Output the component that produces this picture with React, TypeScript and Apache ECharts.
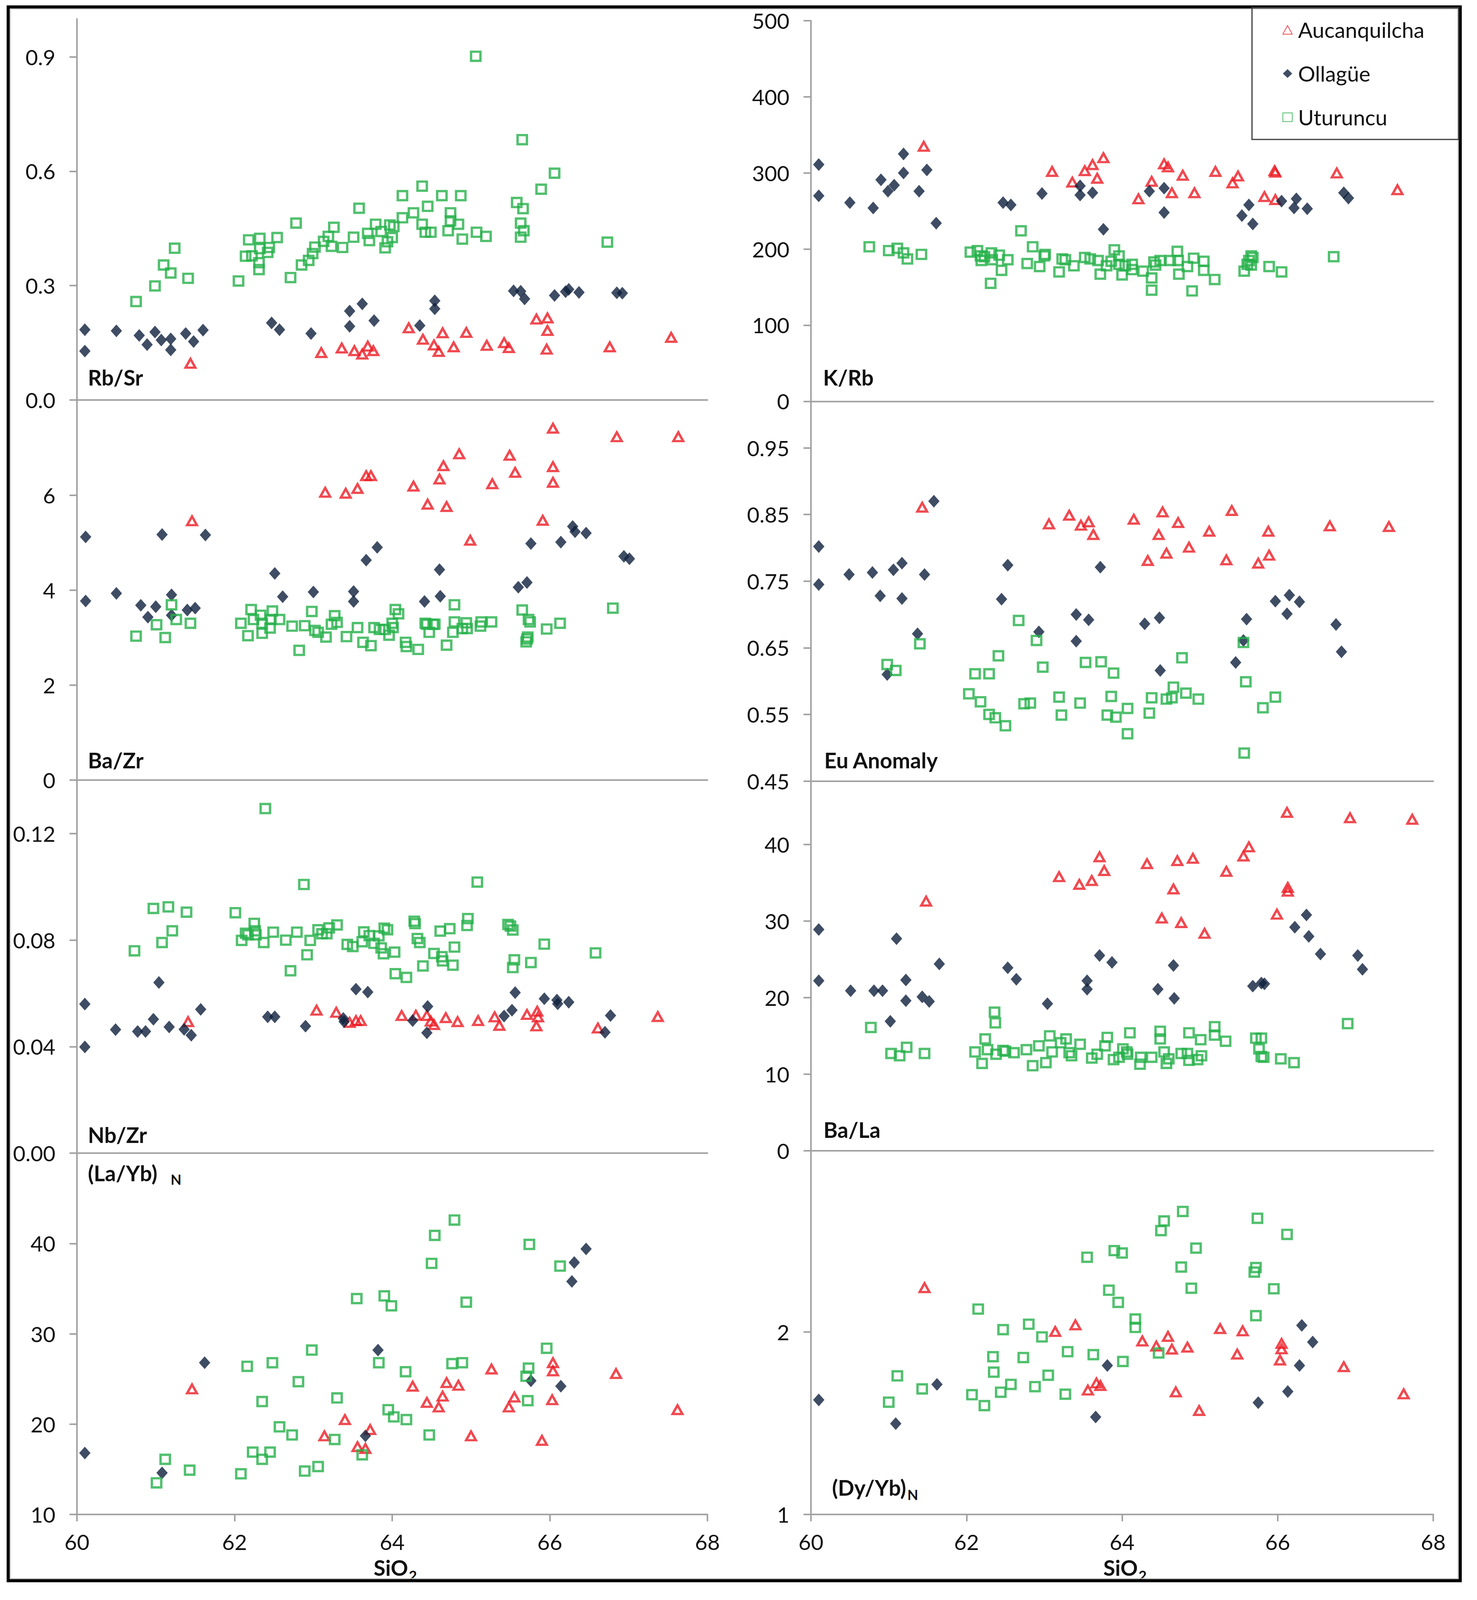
import { useEffect, useRef } from 'react';
import * as echarts from 'echarts';

type Pt = [number, number];

// shared SiO2 axis
const sio2Ticks = [60, 62, 64, 66, 68];
const seriesNames = ['Aucanquilcha', 'Ollagüe', 'Uturuncu'];

// ---- Rb/Sr
const rbSrTicks = [0, 0.3, 0.6, 0.9];
const rbSrAuc: Pt[] = [[61.44,0.096],[63.10,0.124],[63.36,0.136],[63.52,0.129],[63.62,0.120],[63.69,0.141],[63.76,0.129],[64.21,0.189],[64.39,0.159],[64.53,0.144],[64.59,0.127],[64.64,0.176],[64.78,0.139],[64.94,0.177],[65.20,0.143],[65.42,0.150],[65.48,0.137],[65.83,0.212],[65.97,0.215],[65.97,0.182],[65.96,0.133],[66.76,0.139],[67.54,0.164]];
const rbSrOll: Pt[] = [[60.10,0.184],[60.10,0.128],[60.50,0.181],[60.79,0.169],[60.89,0.145],[60.99,0.178],[61.07,0.157],[61.19,0.160],[61.19,0.131],[61.38,0.174],[61.48,0.153],[61.60,0.183],[62.47,0.202],[62.57,0.184],[62.97,0.174],[63.46,0.233],[63.46,0.193],[63.62,0.252],[63.77,0.208],[64.35,0.195],[64.54,0.260],[64.54,0.239],[65.54,0.286],[65.63,0.285],[65.68,0.265],[66.06,0.274],[66.20,0.284],[66.24,0.290],[66.37,0.282],[66.85,0.281],[66.92,0.280]];
const rbSrUtu: Pt[] = [[65.06,0.902],[65.65,0.683],[66.06,0.595],[65.89,0.553],[64.38,0.561],[64.13,0.536],[64.63,0.536],[64.87,0.536],[65.58,0.518],[65.66,0.502],[63.58,0.503],[64.45,0.508],[64.27,0.491],[64.74,0.491],[64.13,0.478],[64.74,0.470],[65.63,0.464],[64.38,0.461],[64.84,0.461],[63.79,0.461],[63.97,0.459],[64.02,0.455],[63.26,0.453],[62.78,0.464],[63.86,0.442],[63.69,0.437],[64.42,0.440],[64.49,0.440],[64.71,0.444],[65.07,0.440],[65.67,0.444],[65.19,0.429],[65.63,0.427],[64.89,0.422],[64.00,0.426],[63.94,0.415],[63.71,0.418],[63.51,0.427],[63.19,0.429],[63.13,0.416],[63.23,0.403],[63.37,0.400],[63.02,0.401],[63.91,0.399],[62.99,0.384],[62.94,0.366],[62.85,0.354],[62.54,0.426],[62.32,0.424],[62.18,0.420],[62.44,0.400],[62.42,0.387],[62.32,0.397],[62.14,0.377],[62.22,0.378],[62.31,0.360],[62.31,0.342],[62.05,0.312],[62.71,0.321],[61.24,0.398],[61.10,0.354],[61.19,0.333],[61.41,0.319],[60.99,0.299],[60.75,0.258],[66.73,0.414]];

// ---- K/Rb
const kRbTicks = [0, 100, 200, 300, 400, 500];
const kRbAuc: Pt[] = [[61.45,335],[63.10,302],[63.36,288],[63.52,303],[63.62,311],[63.68,293],[63.76,320],[64.21,266],[64.38,289],[64.54,312],[64.59,308],[64.64,274],[64.78,297],[64.93,274],[65.20,302],[65.42,287],[65.49,296],[65.83,269],[65.96,303],[65.97,301],[65.97,265],[66.76,300],[67.54,278]];
const kRbOll: Pt[] = [[60.10,311],[60.10,270],[60.50,261],[60.80,254],[60.90,291],[60.99,276],[61.07,284],[61.19,325],[61.19,300],[61.39,276],[61.49,304],[61.61,234],[62.47,261],[62.57,258],[62.97,273],[63.46,271],[63.46,283],[63.62,274],[63.76,226],[64.35,276],[64.54,280],[64.54,248],[65.54,244],[65.63,258],[65.68,233],[66.05,263],[66.21,254],[66.24,266],[66.38,253],[66.85,274],[66.91,267]];
const kRbUtu: Pt[] = [[60.75,203],[61.00,198],[61.11,201],[61.19,195],[61.24,187],[61.42,193],[62.05,196],[62.14,198],[62.18,191],[62.19,185],[62.23,190],[62.31,155],[62.32,195],[62.33,186],[62.42,192],[62.45,172],[62.53,186],[62.70,224],[62.78,181],[62.85,203],[62.94,177],[63.00,191],[63.01,193],[63.19,170],[63.23,187],[63.27,186],[63.38,178],[63.52,189],[63.59,187],[63.69,185],[63.72,167],[63.80,178],[63.86,184],[63.90,199],[63.96,191],[63.96,180],[64.00,166],[64.04,178],[64.13,180],[64.13,173],[64.27,171],[64.38,162],[64.38,146],[64.41,183],[64.43,179],[64.49,185],[64.62,185],[64.71,197],[64.72,185],[64.73,167],[64.84,177],[64.90,145],[64.92,188],[65.05,184],[65.05,172],[65.19,160],[65.57,171],[65.61,180],[65.63,185],[65.66,191],[65.68,189],[65.66,179],[65.89,177],[66.05,170],[66.72,190]];

// ---- Ba/Zr
const baZrTicks = [0, 2, 4, 6];
const baZrAuc: Pt[] = [[61.46,5.46],[63.15,6.06],[63.41,6.04],[63.56,6.14],[63.67,6.41],[63.73,6.41],[64.27,6.19],[64.45,5.81],[64.60,6.34],[64.65,6.62],[64.69,5.76],[64.85,6.87],[64.99,5.05],[65.27,6.24],[65.49,6.84],[65.56,6.48],[65.91,5.47],[66.04,7.41],[66.04,6.60],[66.04,6.27],[66.85,7.23],[67.63,7.23]];
const baZrOll: Pt[] = [[60.11,5.12],[60.11,3.77],[60.50,3.93],[60.81,3.68],[60.90,3.43],[61.00,3.65],[61.08,5.17],[61.20,3.90],[61.20,3.47],[61.40,3.58],[61.50,3.62],[61.63,5.16],[62.51,4.35],[62.61,3.86],[63.00,3.96],[63.51,3.97],[63.51,3.76],[63.67,4.63],[63.81,4.90],[64.41,3.76],[64.60,4.43],[64.61,3.87],[65.60,4.06],[65.71,4.16],[65.76,4.98],[66.14,5.01],[66.29,5.34],[66.32,5.23],[66.46,5.20],[66.94,4.71],[67.01,4.66]];
const baZrUtu: Pt[] = [[60.75,3.03],[61.01,3.27],[61.12,3.00],[61.20,3.69],[61.26,3.38],[61.44,3.30],[62.08,3.30],[62.17,3.04],[62.21,3.59],[62.24,3.38],[62.33,3.47],[62.35,3.30],[62.35,3.09],[62.45,3.20],[62.46,3.38],[62.48,3.56],[62.57,3.38],[62.73,3.24],[62.82,2.73],[62.89,3.25],[62.98,3.55],[63.02,3.15],[63.06,3.11],[63.16,3.01],[63.23,3.28],[63.27,3.46],[63.30,3.32],[63.42,3.02],[63.56,3.21],[63.63,2.90],[63.73,2.83],[63.77,3.21],[63.84,3.17],[63.91,3.17],[63.96,3.05],[64.00,3.30],[64.01,3.21],[64.04,3.59],[64.08,3.50],[64.17,2.90],[64.18,2.81],[64.33,2.75],[64.42,3.30],[64.44,3.28],[64.47,3.11],[64.52,3.28],[64.54,3.28],[64.69,2.84],[64.77,3.11],[64.79,3.69],[64.79,3.33],[64.89,3.19],[64.94,3.31],[64.95,3.19],[65.12,3.24],[65.13,3.33],[65.26,3.33],[65.65,3.58],[65.70,2.91],[65.71,2.97],[65.72,3.01],[65.73,3.38],[65.75,3.33],[65.96,3.18],[66.13,3.30],[66.80,3.62]];

// ---- Eu anomaly
const euTicks = [0.45, 0.55, 0.65, 0.75, 0.85, 0.95];
const euAuc: Pt[] = [[61.43,0.861],[63.06,0.836],[63.32,0.849],[63.47,0.834],[63.57,0.839],[63.63,0.820],[64.15,0.843],[64.33,0.781],[64.47,0.820],[64.52,0.854],[64.57,0.792],[64.72,0.838],[64.86,0.801],[65.12,0.825],[65.34,0.782],[65.41,0.856],[65.75,0.777],[65.88,0.825],[65.89,0.789],[66.67,0.833],[67.43,0.832]];
const euOll: Pt[] = [[60.10,0.802],[60.10,0.745],[60.49,0.760],[60.79,0.763],[60.89,0.728],[60.98,0.610],[61.06,0.767],[61.17,0.777],[61.17,0.724],[61.37,0.671],[61.46,0.760],[61.58,0.870],[62.45,0.723],[62.53,0.774],[62.93,0.674],[63.41,0.660],[63.41,0.700],[63.57,0.692],[63.72,0.771],[64.29,0.686],[64.48,0.695],[64.49,0.616],[65.46,0.628],[65.56,0.661],[65.60,0.693],[65.97,0.720],[66.12,0.701],[66.15,0.729],[66.28,0.719],[66.75,0.685],[66.82,0.644]];
const euUtu: Pt[] = [[60.98,0.625],[61.09,0.616],[61.40,0.656],[62.03,0.581],[62.11,0.611],[62.18,0.569],[62.29,0.611],[62.29,0.550],[62.37,0.545],[62.41,0.638],[62.50,0.533],[62.67,0.691],[62.74,0.566],[62.82,0.567],[62.90,0.661],[62.98,0.621],[63.19,0.576],[63.22,0.549],[63.46,0.567],[63.53,0.628],[63.73,0.629],[63.81,0.549],[63.86,0.577],[63.89,0.612],[63.92,0.546],[64.07,0.559],[64.07,0.521],[64.35,0.552],[64.38,0.575],[64.57,0.573],[64.64,0.575],[64.66,0.591],[64.77,0.635],[64.82,0.582],[64.98,0.573],[65.56,0.658],[65.57,0.492],[65.59,0.599],[65.81,0.560],[65.97,0.576]];

// ---- Nb/Zr
const nbZrTicks = [0, 0.04, 0.08, 0.12];
const nbZrAuc: Pt[] = [[61.41,0.0494],[63.04,0.0537],[63.29,0.0529],[63.46,0.0491],[63.54,0.0498],[63.60,0.0498],[64.12,0.0517],[64.30,0.0518],[64.44,0.0517],[64.49,0.0496],[64.53,0.0483],[64.68,0.0509],[64.83,0.0494],[65.09,0.0498],[65.30,0.0512],[65.36,0.0480],[65.71,0.0521],[65.84,0.0533],[65.85,0.0512],[65.83,0.0478],[66.61,0.0470],[67.37,0.0513]];
const nbZrOll: Pt[] = [[60.10,0.0560],[60.10,0.0399],[60.49,0.0464],[60.77,0.0457],[60.87,0.0457],[60.97,0.0503],[61.04,0.0641],[61.17,0.0474],[61.36,0.0465],[61.45,0.0443],[61.57,0.0540],[62.42,0.0512],[62.51,0.0512],[62.90,0.0477],[63.38,0.0506],[63.39,0.0494],[63.54,0.0616],[63.69,0.0605],[64.26,0.0498],[64.45,0.0551],[64.44,0.0452],[65.42,0.0515],[65.52,0.0537],[65.56,0.0603],[65.93,0.0580],[66.09,0.0575],[66.10,0.0561],[66.24,0.0567],[66.70,0.0454],[66.77,0.0517]];
const nbZrUtu: Pt[] = [[60.73,0.0760],[60.97,0.0919],[61.08,0.0791],[61.16,0.0925],[61.21,0.0835],[61.39,0.0905],[62.01,0.0903],[62.09,0.0799],[62.14,0.0826],[62.17,0.0820],[62.25,0.0863],[62.26,0.0835],[62.27,0.0820],[62.37,0.0791],[62.49,0.0830],[62.65,0.0800],[62.79,0.0830],[62.88,0.1009],[62.92,0.0745],[62.96,0.0799],[62.71,0.0685],[63.06,0.0839],[63.11,0.0824],[63.17,0.0824],[63.20,0.0846],[63.30,0.0857],[63.43,0.0784],[63.50,0.0776],[63.62,0.0794],[63.64,0.0831],[63.71,0.0817],[63.77,0.0788],[63.83,0.0816],[63.86,0.0771],[63.89,0.0749],[63.90,0.0845],[63.94,0.0839],[64.03,0.0755],[64.04,0.0674],[64.18,0.0660],[64.28,0.0871],[64.29,0.0862],[64.32,0.0806],[64.35,0.0791],[64.39,0.0703],[64.53,0.0750],[64.61,0.0834],[64.63,0.0738],[64.64,0.0722],[64.73,0.0843],[64.77,0.0706],[64.79,0.0774],[64.95,0.0855],[64.96,0.0881],[65.08,0.1018],[65.47,0.0859],[65.50,0.0853],[65.53,0.0838],[65.55,0.0726],[65.53,0.0697],[65.76,0.0716],[65.93,0.0785],[66.58,0.0752],[62.39,0.1294]];

// ---- Ba/La
const baLaTicks = [0, 10, 20, 30, 40];
const baLaAuc: Pt[] = [[61.48,32.6],[63.19,35.8],[63.45,34.8],[63.61,35.3],[63.71,38.4],[63.77,36.6],[64.32,37.5],[64.51,30.4],[64.66,34.2],[64.71,37.9],[64.76,29.8],[64.91,38.2],[65.06,28.4],[65.34,36.5],[65.56,38.5],[65.63,39.7],[65.99,30.9],[66.12,44.2],[66.13,34.4],[66.13,33.9],[66.93,43.5],[67.73,43.3]];
const baLaOll: Pt[] = [[60.10,28.9],[60.10,22.2],[60.51,20.9],[60.81,20.9],[60.92,20.9],[61.02,16.9],[61.10,27.7],[61.22,22.3],[61.22,19.6],[61.43,20.1],[61.52,19.5],[61.65,24.4],[62.53,23.9],[62.64,22.4],[63.04,19.2],[63.55,22.2],[63.55,21.1],[63.71,25.5],[63.87,24.6],[64.46,21.1],[64.66,24.2],[64.67,19.9],[65.68,21.5],[65.79,21.9],[65.83,21.8],[66.22,29.2],[66.37,30.8],[66.40,28.0],[66.55,25.7],[67.03,25.5],[67.09,23.7]];
const baLaUtu: Pt[] = [[60.77,16.1],[61.03,12.7],[61.14,12.4],[61.23,13.5],[61.46,12.7],[62.11,12.9],[62.20,11.4],[62.24,14.6],[62.27,13.2],[62.36,18.1],[62.37,16.7],[62.38,12.6],[62.47,13.1],[62.50,13.0],[62.61,12.8],[62.77,13.2],[62.85,11.1],[62.93,13.7],[63.02,11.5],[63.07,15.0],[63.10,12.9],[63.21,14.1],[63.28,14.6],[63.32,12.8],[63.35,12.4],[63.46,13.9],[63.61,12.1],[63.68,12.6],[63.78,13.7],[63.81,14.8],[63.89,11.9],[63.96,12.2],[64.01,13.3],[64.06,12.9],[64.07,12.6],[64.10,15.4],[64.24,12.2],[64.23,11.3],[64.38,12.2],[64.49,15.6],[64.49,14.6],[64.54,12.9],[64.57,11.4],[64.60,12.0],[64.76,12.7],[64.84,12.7],[64.86,15.4],[64.86,11.8],[64.97,11.9],[65.01,14.5],[65.02,12.4],[65.19,16.2],[65.19,15.1],[65.33,14.3],[65.72,14.7],[65.79,14.7],[65.76,13.3],[65.79,12.3],[65.82,12.2],[66.04,12.0],[66.21,11.5],[66.90,16.6]];

// ---- (La/Yb)N
const laYbTicks = [10, 20, 30, 40];
const laYbAuc: Pt[] = [[61.46,23.9],[63.14,18.7],[63.40,20.5],[63.56,17.5],[63.66,17.3],[63.72,19.4],[64.26,24.2],[64.44,22.4],[64.59,21.9],[64.64,23.1],[64.69,24.6],[64.84,24.3],[65.00,18.7],[65.26,26.1],[65.48,21.9],[65.55,23.0],[65.90,18.2],[66.03,22.7],[66.04,26.8],[66.04,25.9],[66.84,25.6],[67.62,21.6]];
const laYbOll: Pt[] = [[60.10,16.8],[61.08,14.6],[61.62,26.8],[63.66,18.7],[63.82,28.2],[65.76,24.8],[66.14,24.2],[66.28,35.8],[66.31,37.9],[66.46,39.4]];
const laYbUtu: Pt[] = [[61.01,13.5],[61.12,16.1],[61.43,14.9],[62.08,14.5],[62.16,26.4],[62.23,16.9],[62.35,22.5],[62.35,16.1],[62.45,16.9],[62.48,26.8],[62.57,19.7],[62.73,18.8],[62.81,24.7],[62.89,14.8],[62.98,28.2],[63.06,15.3],[63.27,18.3],[63.30,22.9],[63.55,33.9],[63.62,16.6],[63.83,26.8],[63.90,34.2],[63.95,21.6],[63.99,33.1],[64.02,20.8],[64.17,25.8],[64.18,20.5],[64.47,18.8],[64.50,37.8],[64.54,40.9],[64.76,26.7],[64.79,42.6],[64.89,26.8],[64.94,33.5],[65.70,25.3],[65.72,22.6],[65.73,26.2],[65.74,39.9],[65.96,28.4],[66.13,37.5]];

// ---- (Dy/Yb)N, log2 axis
const dyYbAuc: Pt[] = [[61.46,2.367],[63.14,2.004],[63.40,2.055],[63.56,1.604],[63.67,1.648],[63.72,1.632],[64.26,1.933],[64.44,1.896],[64.59,1.967],[64.64,1.874],[64.69,1.593],[64.84,1.888],[64.99,1.484],[65.26,2.026],[65.48,1.839],[65.55,2.009],[66.03,1.798],[66.05,1.876],[66.05,1.915],[66.85,1.753],[67.62,1.581]];
const dyYbOll: Pt[] = [[60.10,1.545],[61.09,1.412],[61.62,1.639],[63.66,1.448],[63.81,1.761],[65.75,1.529],[66.13,1.595],[66.28,1.761],[66.31,2.051],[66.45,1.925]];
const dyYbUtu: Pt[] = [[61.00,1.532],[61.11,1.693],[61.43,1.611],[62.07,1.576],[62.15,2.182],[62.23,1.512],[62.34,1.821],[62.35,1.717],[62.44,1.591],[62.47,2.018],[62.57,1.639],[62.73,1.815],[62.80,2.060],[62.88,1.625],[62.97,1.963],[63.05,1.697],[63.27,1.579],[63.30,1.856],[63.55,2.657],[63.63,1.835],[63.83,2.344],[63.90,2.725],[63.95,2.238],[64.00,2.700],[64.01,1.788],[64.17,2.101],[64.17,2.035],[64.47,1.847],[64.50,2.940],[64.54,3.050],[64.76,2.560],[64.78,3.162],[64.89,2.362],[64.95,2.751],[65.70,2.511],[65.72,2.555],[65.72,2.128],[65.74,3.081],[65.95,2.357],[66.12,2.898]];

const RED = '#ec1c24';
const NAVY = '#0f213d';
const GREEN = '#25b04a';
const AXIS = '#a2a2a2';
const FONT = 'Lato';
const INK = '#111111';

// layout is measured on the 3781 x 4394 reference and scaled to the viewport
const REF_W = 3781;
const REF_H = 4394;

const COLS = [
  { left: 197, right: 1811 },
  { left: 2076, right: 3669 },
];

interface Panel {
  label: string;
  col: number;
  top: number;
  bottom: number;
  min: number;
  max: number;
  interval?: number;
  ticks?: number[];
  digits: number;
  log?: boolean;
  last?: boolean;
  sets: Pt[][];
  lx: number;
  ly: number;
  sub?: { gap: number; dy: number };
}

const panels: Panel[] = [
  { label: 'Rb/Sr', col: 0, top: 52, bottom: 1098, min: 0, max: 1, interval: 0.3, ticks: rbSrTicks, digits: 1, sets: [rbSrAuc, rbSrOll, rbSrUtu], lx: 225, ly: 1036 },
  { label: 'K/Rb', col: 1, top: 57, bottom: 1102, min: 0, max: 500, interval: 100, ticks: kRbTicks, digits: 0, sets: [kRbAuc, kRbOll, kRbUtu], lx: 2107, ly: 1036 },
  { label: 'Ba/Zr', col: 0, top: 1099, bottom: 2142, min: 0, max: 8, interval: 2, ticks: baZrTicks, digits: 0, sets: [baZrAuc, baZrOll, baZrUtu], lx: 225, ly: 2088 },
  { label: 'Eu Anomaly', col: 1, top: 1102, bottom: 2145, min: 0.45, max: 1.02, interval: 0.1, ticks: euTicks, digits: 2, sets: [euAuc, euOll, euUtu], lx: 2110, ly: 2088 },
  { label: 'Nb/Zr', col: 0, top: 2143, bottom: 3167, min: 0, max: 0.14, interval: 0.04, ticks: nbZrTicks, digits: 2, sets: [nbZrAuc, nbZrOll, nbZrUtu], lx: 225, ly: 3116 },
  { label: 'Ba/La', col: 1, top: 2147, bottom: 3160, min: 0, max: 48.2, interval: 10, ticks: baLaTicks, digits: 0, sets: [baLaAuc, baLaOll, baLaUtu], lx: 2108, ly: 3102 },
  { label: '(La/Yb)', col: 0, top: 3167, bottom: 4159, min: 10, max: 50, interval: 10, ticks: laYbTicks, digits: 0, sets: [laYbAuc, laYbOll, laYbUtu], lx: 225, ly: 3221, sub: { gap: 34, dy: 18 }, last: true },
  { label: '(Dy/Yb)', col: 1, top: 3157, bottom: 4159, min: 1, max: 4, digits: 0, log: true, sets: [dyYbAuc, dyYbOll, dyYbUtu], lx: 2130, ly: 4085, sub: { gap: 3, dy: 19 }, last: true },
];

function textWidth(text: string, font: string) {
  const ctx = document.createElement('canvas').getContext('2d');
  if (!ctx) return text.length * 30;
  ctx.font = font;
  return ctx.measureText(text).width;
}

export default function App() {
  const chartRef = useRef<HTMLDivElement>(null);

  useEffect(() => {
    document.body.style.margin = '0';
    const el = chartRef.current;
    if (!el) return;
    const W = window.innerWidth || REF_W;
    const H = window.innerHeight || REF_H;
    el.style.width = `${W}px`;
    el.style.height = `${H}px`;
    const sx = W / REF_W;
    const sy = H / REF_H;
    const X = (v: number) => v * sx;
    const Y = (v: number) => v * sy;
    const fs = (v: number) => Math.round(v * (sx + sy) / 2);

    const chart = echarts.init(el, null, { renderer: 'svg' });

    const lineStyle = { color: AXIS, width: 4 };
    const labelFont = { fontSize: fs(57), fontFamily: FONT, color: INK };
    const titleFont = `bold ${fs(57)}px ${FONT}`;
    const subFont = `bold ${fs(37)}px ${FONT}`;

    const markerStyles = [
      { symbol: 'triangle', symbolSize: [X(25), Y(24)], itemStyle: { color: 'rgba(255,255,255,0)', borderColor: RED, borderWidth: 6 } },
      { symbol: 'diamond', symbolSize: [X(29), Y(35)], itemStyle: { color: NAVY } },
      { symbol: 'rect', symbolSize: [X(24), Y(25)], itemStyle: { color: 'rgba(255,255,255,0)', borderColor: GREEN, borderWidth: 6 } },
    ];

    const grid = panels.map((p) => ({
      left: X(COLS[p.col].left),
      width: X(COLS[p.col].right - COLS[p.col].left),
      top: Y(p.top),
      height: Y(p.bottom - p.top),
      containLabel: false,
      outerBoundsMode: 'none',
    }));

    const xAxis = panels.map((p, i) => ({
      type: 'value',
      gridIndex: i,
      min: 60,
      max: 68,
      interval: 2,
      axisLine: { onZero: false, lineStyle },
      axisTick: { show: !!p.last, length: Y(19), lineStyle, customValues: sio2Ticks },
      axisLabel: { show: !!p.last, margin: Y(46), ...labelFont, customValues: sio2Ticks },
      splitLine: { show: false },
    }));

    const yAxis = panels.map((p, i) =>
      p.log
        ? {
            type: 'log',
            logBase: 2,
            gridIndex: i,
            min: p.min,
            max: p.max,
            axisLine: { onZero: false, lineStyle },
            axisTick: { length: X(19), lineStyle },
            axisLabel: { margin: X(55), showMaxLabel: false, ...labelFont, formatter: (v: number) => String(Math.round(v)) },
            splitLine: { show: false },
          }
        : {
            type: 'value',
            gridIndex: i,
            min: p.min,
            max: p.max,
            interval: p.interval,
            axisLine: { onZero: false, lineStyle },
            axisTick: { length: X(19), lineStyle, customValues: p.ticks },
            axisLabel: {
              margin: X(55),
              ...labelFont,
              customValues: p.ticks,
              formatter: (v: number) => v.toFixed(p.digits),
            },
            splitLine: { show: false },
          }
    );

    const series: any[] = [];
    panels.forEach((p, i) => {
      p.sets.forEach((data, k) => {
        series.push({
          type: 'scatter',
          name: seriesNames[k],
          xAxisIndex: i,
          yAxisIndex: i,
          data,
          ...markerStyles[k],
          emphasis: { disabled: true },
        });
      });
    });

    const graphic: any[] = [
      { type: 'rect', shape: { x: X(21), y: Y(19), width: X(3717), height: Y(4322) }, style: { fill: 'none', stroke: '#000', lineWidth: 8 }, z: 100 },
      { type: 'rect', shape: { x: X(27), y: Y(25), width: X(3705), height: Y(4310) }, style: { fill: 'none', stroke: '#c8c8c8', lineWidth: 2 }, z: 100 },
      { type: 'rect', shape: { x: X(3205), y: Y(21), width: X(529), height: Y(362) }, style: { fill: 'none', stroke: '#3a3a3a', lineWidth: 3 }, z: 100 },
    ];
    panels.forEach((p) => {
      graphic.push({
        type: 'text',
        x: X(p.lx),
        y: Y(p.ly),
        style: { text: p.label, fill: INK, font: titleFont, textAlign: 'left', textVerticalAlign: 'middle' },
      });
      if (p.sub) {
        graphic.push({
          type: 'text',
          x: X(p.lx) + textWidth(p.label, titleFont) + X(p.sub.gap),
          y: Y(p.ly + p.sub.dy),
          style: { text: 'N', fill: INK, font: subFont, textAlign: 'left', textVerticalAlign: 'middle' },
        });
      }
    });
    // SiO2 axis titles under both bottom panels, centred a little right of the 64 tick
    const sioFont = `bold ${fs(57)}px ${FONT}`;
    const twoFont = `bold ${fs(37)}px ${FONT}`;
    const sioW = textWidth('SiO', sioFont);
    const twoW = textWidth('2', twoFont);
    [1012, 2880].forEach((cx) => {
      const left = X(cx) - (sioW + twoW + 2) / 2;
      graphic.push({ type: 'text', x: left, y: Y(4305), style: { text: 'SiO', fill: INK, font: sioFont, textAlign: 'left', textVerticalAlign: 'middle' } });
      graphic.push({ type: 'text', x: left + sioW + 2, y: Y(4326), style: { text: '2', fill: INK, font: twoFont, textAlign: 'left', textVerticalAlign: 'middle' } });
    });

    chart.setOption({
      animation: false,
      backgroundColor: '#fff',
      legend: {
        data: seriesNames,
        orient: 'vertical',
        left: X(3283),
        top: Y(82) - fs(57) / 2,
        padding: 0,
        itemWidth: X(24),
        itemHeight: Y(24),
        itemGap: Y(120) - fs(57),
        selectedMode: false,
        textStyle: { fontSize: fs(57), fontFamily: FONT, color: INK, padding: [0, 0, 0, 10] },
      },
      grid,
      xAxis,
      yAxis,
      series,
      graphic,
    } as any);

    return () => {
      chart.dispose();
    };
  }, []);

  return <div ref={chartRef} style={{ width: REF_W, height: REF_H, background: '#fff' }} />;
}
